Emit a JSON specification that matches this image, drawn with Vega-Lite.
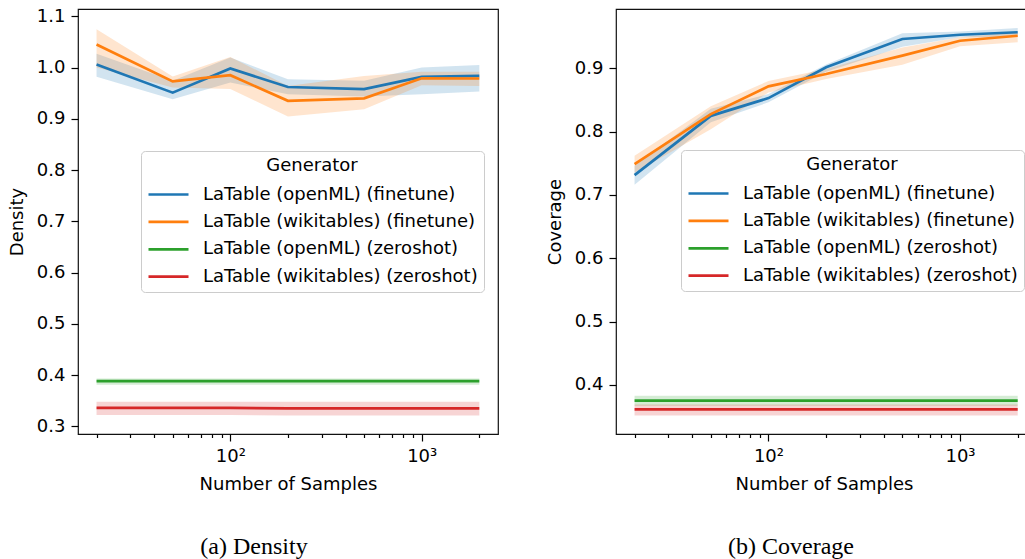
{
  "$schema": "https://vega.github.io/schema/vega-lite/v6.json",
  "background": "white",
  "padding": {"left": 7, "top": 6, "right": 0, "bottom": 0},
  "datasets": {
    "d": [
      {"m": "Density", "g": "LaTable (openML) (finetune)", "n": 20, "y": 1.006, "lo": 0.982, "hi": 1.027},
      {"m": "Density", "g": "LaTable (openML) (finetune)", "n": 50, "y": 0.951, "lo": 0.938, "hi": 0.974},
      {"m": "Density", "g": "LaTable (openML) (finetune)", "n": 100, "y": 0.998, "lo": 0.971, "hi": 1.0195},
      {"m": "Density", "g": "LaTable (openML) (finetune)", "n": 200, "y": 0.962, "lo": 0.948, "hi": 0.977},
      {"m": "Density", "g": "LaTable (openML) (finetune)", "n": 500, "y": 0.958, "lo": 0.9435, "hi": 0.974},
      {"m": "Density", "g": "LaTable (openML) (finetune)", "n": 1000, "y": 0.9817, "lo": 0.948, "hi": 1.0},
      {"m": "Density", "g": "LaTable (openML) (finetune)", "n": 2000, "y": 0.9836, "lo": 0.953, "hi": 1.005},
      {"m": "Density", "g": "LaTable (wikitables) (finetune)", "n": 20, "y": 1.045, "lo": 1.0, "hi": 1.0747},
      {"m": "Density", "g": "LaTable (wikitables) (finetune)", "n": 50, "y": 0.973, "lo": 0.961, "hi": 0.9825},
      {"m": "Density", "g": "LaTable (wikitables) (finetune)", "n": 100, "y": 0.985, "lo": 0.958, "hi": 1.0207},
      {"m": "Density", "g": "LaTable (wikitables) (finetune)", "n": 200, "y": 0.935, "lo": 0.9045, "hi": 0.964},
      {"m": "Density", "g": "LaTable (wikitables) (finetune)", "n": 500, "y": 0.94, "lo": 0.9187, "hi": 0.9836},
      {"m": "Density", "g": "LaTable (wikitables) (finetune)", "n": 1000, "y": 0.979, "lo": 0.9655, "hi": 0.992},
      {"m": "Density", "g": "LaTable (wikitables) (finetune)", "n": 2000, "y": 0.9786, "lo": 0.964, "hi": 0.992},
      {"m": "Density", "g": "LaTable (openML) (zeroshot)", "n": 20, "y": 0.388, "lo": 0.381, "hi": 0.3935},
      {"m": "Density", "g": "LaTable (openML) (zeroshot)", "n": 50, "y": 0.388, "lo": 0.381, "hi": 0.3935},
      {"m": "Density", "g": "LaTable (openML) (zeroshot)", "n": 100, "y": 0.388, "lo": 0.381, "hi": 0.3935},
      {"m": "Density", "g": "LaTable (openML) (zeroshot)", "n": 200, "y": 0.388, "lo": 0.381, "hi": 0.3935},
      {"m": "Density", "g": "LaTable (openML) (zeroshot)", "n": 500, "y": 0.388, "lo": 0.381, "hi": 0.3935},
      {"m": "Density", "g": "LaTable (openML) (zeroshot)", "n": 1000, "y": 0.388, "lo": 0.381, "hi": 0.3935},
      {"m": "Density", "g": "LaTable (openML) (zeroshot)", "n": 2000, "y": 0.388, "lo": 0.381, "hi": 0.3935},
      {"m": "Density", "g": "LaTable (wikitables) (zeroshot)", "n": 20, "y": 0.336, "lo": 0.322, "hi": 0.348},
      {"m": "Density", "g": "LaTable (wikitables) (zeroshot)", "n": 50, "y": 0.336, "lo": 0.322, "hi": 0.348},
      {"m": "Density", "g": "LaTable (wikitables) (zeroshot)", "n": 100, "y": 0.336, "lo": 0.322, "hi": 0.348},
      {"m": "Density", "g": "LaTable (wikitables) (zeroshot)", "n": 200, "y": 0.335, "lo": 0.321, "hi": 0.348},
      {"m": "Density", "g": "LaTable (wikitables) (zeroshot)", "n": 500, "y": 0.335, "lo": 0.321, "hi": 0.348},
      {"m": "Density", "g": "LaTable (wikitables) (zeroshot)", "n": 1000, "y": 0.335, "lo": 0.321, "hi": 0.348},
      {"m": "Density", "g": "LaTable (wikitables) (zeroshot)", "n": 2000, "y": 0.335, "lo": 0.321, "hi": 0.348},

      {"m": "Coverage", "g": "LaTable (openML) (finetune)", "n": 20, "y": 0.7314, "lo": 0.716, "hi": 0.746},
      {"m": "Coverage", "g": "LaTable (openML) (finetune)", "n": 50, "y": 0.825, "lo": 0.8147, "hi": 0.836},
      {"m": "Coverage", "g": "LaTable (openML) (finetune)", "n": 100, "y": 0.853, "lo": 0.8463, "hi": 0.8594},
      {"m": "Coverage", "g": "LaTable (openML) (finetune)", "n": 200, "y": 0.9016, "lo": 0.8946, "hi": 0.906},
      {"m": "Coverage", "g": "LaTable (openML) (finetune)", "n": 500, "y": 0.9463, "lo": 0.934, "hi": 0.9553},
      {"m": "Coverage", "g": "LaTable (openML) (finetune)", "n": 1000, "y": 0.953, "lo": 0.949, "hi": 0.958},
      {"m": "Coverage", "g": "LaTable (openML) (finetune)", "n": 2000, "y": 0.957, "lo": 0.95, "hi": 0.9637},
      {"m": "Coverage", "g": "LaTable (wikitables) (finetune)", "n": 20, "y": 0.7488, "lo": 0.735, "hi": 0.762},
      {"m": "Coverage", "g": "LaTable (wikitables) (finetune)", "n": 50, "y": 0.8278, "lo": 0.804, "hi": 0.84},
      {"m": "Coverage", "g": "LaTable (wikitables) (finetune)", "n": 100, "y": 0.8716, "lo": 0.862, "hi": 0.88},
      {"m": "Coverage", "g": "LaTable (wikitables) (finetune)", "n": 200, "y": 0.891, "lo": 0.883, "hi": 0.899},
      {"m": "Coverage", "g": "LaTable (wikitables) (finetune)", "n": 500, "y": 0.92, "lo": 0.9057, "hi": 0.933},
      {"m": "Coverage", "g": "LaTable (wikitables) (finetune)", "n": 1000, "y": 0.9436, "lo": 0.9347, "hi": 0.949},
      {"m": "Coverage", "g": "LaTable (wikitables) (finetune)", "n": 2000, "y": 0.9515, "lo": 0.941, "hi": 0.957},
      {"m": "Coverage", "g": "LaTable (openML) (zeroshot)", "n": 20, "y": 0.3752, "lo": 0.3673, "hi": 0.383},
      {"m": "Coverage", "g": "LaTable (openML) (zeroshot)", "n": 50, "y": 0.3752, "lo": 0.3673, "hi": 0.383},
      {"m": "Coverage", "g": "LaTable (openML) (zeroshot)", "n": 100, "y": 0.3752, "lo": 0.3673, "hi": 0.383},
      {"m": "Coverage", "g": "LaTable (openML) (zeroshot)", "n": 200, "y": 0.3752, "lo": 0.3673, "hi": 0.383},
      {"m": "Coverage", "g": "LaTable (openML) (zeroshot)", "n": 500, "y": 0.3752, "lo": 0.3673, "hi": 0.383},
      {"m": "Coverage", "g": "LaTable (openML) (zeroshot)", "n": 1000, "y": 0.3752, "lo": 0.3673, "hi": 0.383},
      {"m": "Coverage", "g": "LaTable (openML) (zeroshot)", "n": 2000, "y": 0.3752, "lo": 0.3673, "hi": 0.383},
      {"m": "Coverage", "g": "LaTable (wikitables) (zeroshot)", "n": 20, "y": 0.3616, "lo": 0.3517, "hi": 0.369},
      {"m": "Coverage", "g": "LaTable (wikitables) (zeroshot)", "n": 50, "y": 0.3616, "lo": 0.3517, "hi": 0.369},
      {"m": "Coverage", "g": "LaTable (wikitables) (zeroshot)", "n": 100, "y": 0.3616, "lo": 0.3517, "hi": 0.369},
      {"m": "Coverage", "g": "LaTable (wikitables) (zeroshot)", "n": 200, "y": 0.3616, "lo": 0.3517, "hi": 0.369},
      {"m": "Coverage", "g": "LaTable (wikitables) (zeroshot)", "n": 500, "y": 0.3616, "lo": 0.3517, "hi": 0.369},
      {"m": "Coverage", "g": "LaTable (wikitables) (zeroshot)", "n": 1000, "y": 0.3616, "lo": 0.3517, "hi": 0.369},
      {"m": "Coverage", "g": "LaTable (wikitables) (zeroshot)", "n": 2000, "y": 0.3616, "lo": 0.3517, "hi": 0.369}
    ]
  },
  "spacing": 46,
  "hconcat": [
    {
      "width": 420,
      "height": 425,
      "data": {"name": "d"},
      "transform": [{"filter": "datum.m === 'Density'"}],
      "title": {"text": "(a) Density", "orient": "bottom", "anchor": "middle", "frame": "group", "dx": -34, "offset": 42},
      "resolve": {"axis": {"x": "independent"}},
      "layer": [
        {
          "mark": {"type": "area", "opacity": 0.2},
          "encoding": {
            "x": {"field": "n", "type": "quantitative", "scale": {"type": "log", "domain": [16.0, 2504], "nice": false},
                  "axis": {"orient": "bottom", "values": [20, 30, 40, 50, 60, 70, 80, 90, 200, 300, 400, 500, 600, 700, 800, 900, 2000], "labels": false, "title": null, "tickSize": 3.5, "domain": false, "grid": false}},
            "y": {"field": "lo", "type": "quantitative", "scale": {"domain": [0.285, 1.1142], "nice": false, "zero": false}},
            "y2": {"field": "hi"},
            "fill": {"field": "g", "type": "nominal", "legend": null, "sort": null}
          }
        },
        {
          "mark": {"type": "line", "strokeWidth": 2.7},
          "encoding": {
            "x": {"field": "n", "type": "quantitative", "scale": {"type": "log", "domain": [16.0, 2504], "nice": false},
                  "axis": {"orient": "bottom", "values": [100, 1000], "labelExpr": "datum.value == 100 ? '10²' : '10³'", "title": "Number of Samples"}},
            "y": {"field": "y", "type": "quantitative", "axis": {"title": "Density", "values": [0.3, 0.4, 0.5, 0.6, 0.7, 0.8, 0.9, 1.0, 1.1], "format": ".1f"}},
            "color": {"field": "g", "type": "nominal", "sort": null,
                      "legend": {"title": "Generator", "orient": "none", "legendX": 63, "legendY": 142,
                                 "symbolType": "M-1,0H4", "symbolSize": 256, "symbolStrokeWidth": 2.7, "labelOffset": 37, "labelLimit": 400, "titleAnchor": "middle",
                                 "rowPadding": 8.4, "padding": 6, "strokeColor": "#cccccc", "fillColor": "rgba(255,255,255,0.8)", "cornerRadius": 4, "titlePadding": 10}}
          }
        }
      ]
    },
    {
      "width": 410,
      "height": 425,
      "data": {"name": "d"},
      "transform": [{"filter": "datum.m === 'Coverage'"}],
      "title": {"text": "(b) Coverage", "orient": "bottom", "anchor": "middle", "frame": "group", "dx": -30, "offset": 42},
      "resolve": {"axis": {"x": "independent"}},
      "layer": [
        {
          "mark": {"type": "area", "opacity": 0.2},
          "encoding": {
            "x": {"field": "n", "type": "quantitative", "scale": {"type": "log", "domain": [16.0, 2210], "nice": false},
                  "axis": {"orient": "bottom", "values": [20, 30, 40, 50, 60, 70, 80, 90, 200, 300, 400, 500, 600, 700, 800, 900, 2000], "labels": false, "title": null, "tickSize": 3.5, "domain": false, "grid": false}},
            "y": {"field": "lo", "type": "quantitative", "scale": {"domain": [0.3226, 0.9937], "nice": false, "zero": false}},
            "y2": {"field": "hi"},
            "fill": {"field": "g", "type": "nominal", "legend": null, "sort": null}
          }
        },
        {
          "mark": {"type": "line", "strokeWidth": 2.7},
          "encoding": {
            "x": {"field": "n", "type": "quantitative", "scale": {"type": "log", "domain": [16.0, 2210], "nice": false},
                  "axis": {"orient": "bottom", "values": [100, 1000], "labelExpr": "datum.value == 100 ? '10²' : '10³'", "title": "Number of Samples", "titleX": 208, "titleAlign": "center"}},
            "y": {"field": "y", "type": "quantitative", "axis": {"title": "Coverage", "values": [0.4, 0.5, 0.6, 0.7, 0.8, 0.9], "format": ".1f"}},
            "color": {"field": "g", "type": "nominal", "sort": null,
                      "legend": {"title": "Generator", "orient": "none", "legendX": 65, "legendY": 141,
                                 "symbolType": "M-1,0H4", "symbolSize": 256, "symbolStrokeWidth": 2.7, "labelOffset": 37, "labelLimit": 400, "titleAnchor": "middle",
                                 "rowPadding": 8.4, "padding": 6, "strokeColor": "#cccccc", "fillColor": "rgba(255,255,255,0.8)", "cornerRadius": 4, "titlePadding": 10}}
          }
        }
      ]
    }
  ],
  "resolve": {"scale": {"color": "independent"}, "legend": {"color": "independent"}},
  "config": {
    "range": {"category": ["#1f77b4", "#ff7f0e", "#2ca02c", "#d62728"]},
    "view": {"stroke": "#111", "strokeWidth": 1.2},
    "axis": {
      "labelFont": "DejaVu Sans", "labelFontSize": 18, "labelColor": "black",
      "titleFont": "DejaVu Sans", "titleFontSize": 18, "titleFontWeight": "normal", "titleColor": "black",
      "tickColor": "black", "tickSize": 7, "tickWidth": 1.2, "grid": false, "domain": false,
      "labelPadding": 6, "titlePadding": 10
    },
    "legend": {
      "titleFont": "DejaVu Sans", "titleFontSize": 18, "titleFontWeight": "normal", "titleColor": "black",
      "labelFont": "DejaVu Sans", "labelFontSize": 18, "labelColor": "black"
    },
    "title": {"font": "Liberation Serif", "fontSize": 24, "fontWeight": "normal", "color": "black"}
  }
}
